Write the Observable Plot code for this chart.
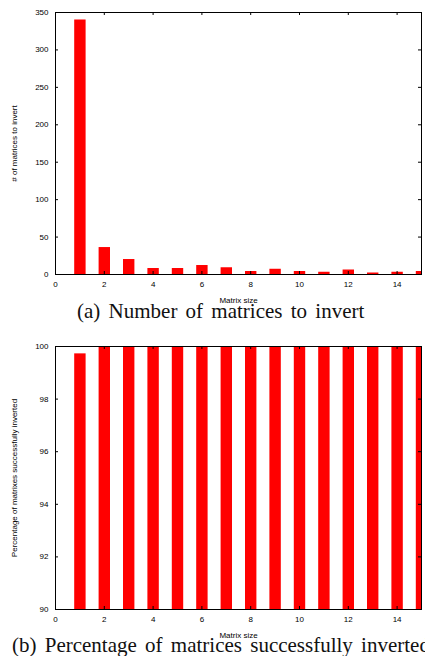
<!DOCTYPE html>
<html>
<head>
<meta charset="utf-8">
<script src="https://cdn.jsdelivr.net/npm/d3@7"></script>
<script src="https://cdn.jsdelivr.net/npm/@observablehq/plot@0.6"></script>
<style>
  html, body { margin: 0; padding: 0; background: #fff; overflow: hidden; }
  #page { position: relative; width: 425px; height: 656px; overflow: hidden; }
  .chart { position: absolute; left: 0; }
  .caption { position: absolute; font-family: "Liberation Serif", "DejaVu Serif", serif; font-size: 21px; word-spacing: 3px; white-space: nowrap; color: #111; line-height: 0.8; }
</style>
</head>
<body>
<div id="page">
  <div id="chartA" class="chart" style="top:0px"></div>
  <div id="capA" class="caption" style="top:303px; left:77px">(a) Number of matrices to invert</div>
  <div id="chartB" class="chart" style="top:334px"></div>
  <div id="capB" class="caption" style="top:637px; left:12px">(b) Percentage of matrices successfully inverted</div>
</div>
<script>
// ---- data ----
const matrixSizes = [1, 2, 3, 4, 5, 6, 7, 8, 9, 10, 11, 12, 13, 14, 15];
const matrixCounts = [340, 36, 20, 8, 8, 12, 9, 4, 7, 4, 3, 6, 2, 3, 4];
const successPercents = [99.72, 100, 100, 100, 100, 100, 100, 100, 100, 100, 100, 100, 100, 100, 100];
const xTicks = [0, 2, 4, 6, 8, 10, 12, 14];
const yTicksA = [0, 50, 100, 150, 200, 250, 300, 350];
const yTicksB = [90, 92, 94, 96, 98, 100];

const dataA = matrixSizes.map((s, i) => ({size: s, value: matrixCounts[i]}));
const dataB = matrixSizes.map((s, i) => ({size: s, value: successPercents[i]}));

const W = 425, mL = 55, mR = 4, mT = 12, mB = 31;

function makeChart(data, yDomain, yTicks, yLabel, height) {
  const plotW = W - mL - mR;
  const plotH = height - mT - mB;
  const tick = 3;
  return Plot.plot({
    width: W,
    height,
    marginLeft: mL,
    marginRight: mR,
    marginTop: mT,
    marginBottom: mB,
    style: {fontFamily: "'Liberation Sans', Arial, sans-serif", fontSize: "8px", color: "#000", background: "#fff"},
    x: {domain: [0, 15]},
    y: {domain: yDomain},
    marks: [
      Plot.rectY(data, {x1: d => d.size - 0.5, x2: d => d.size + 0.5, y: "value", fill: "#ff0000", insetLeft: 7, insetRight: 6, clip: true}),
      Plot.frame({stroke: "#000", strokeWidth: 1}),
      Plot.ruleX(xTicks, {x: d => d, insetTop: plotH - tick, stroke: "#000"}),
      Plot.ruleX(xTicks, {x: d => d, insetBottom: plotH - tick, stroke: "#000"}),
      Plot.ruleY(yTicks, {y: d => d, insetRight: plotW - tick, stroke: "#000"}),
      Plot.ruleY(yTicks, {y: d => d, insetLeft: plotW - tick, stroke: "#000"}),
      Plot.axisX(xTicks, {tickSize: 0, tickPadding: 7, fontSize: 8, label: "Matrix size", labelAnchor: "center", labelOffset: 28, labelArrow: "none"}),
      Plot.axisY(yTicks, {tickSize: 0, tickPadding: 7, fontSize: 8, label: yLabel, labelAnchor: "center", labelOffset: 44, labelArrow: "none"})
    ]
  });
}

const chartA = makeChart(dataA, [0, 350], yTicksA, "# of matrices to invert", 305);
const chartB = makeChart(dataB, [90, 100], yTicksB, "Percentage of matrixes successfully inverted", 306);
document.getElementById("chartA").appendChild(chartA);
document.getElementById("chartB").appendChild(chartB);
</script>
</body>
</html>
